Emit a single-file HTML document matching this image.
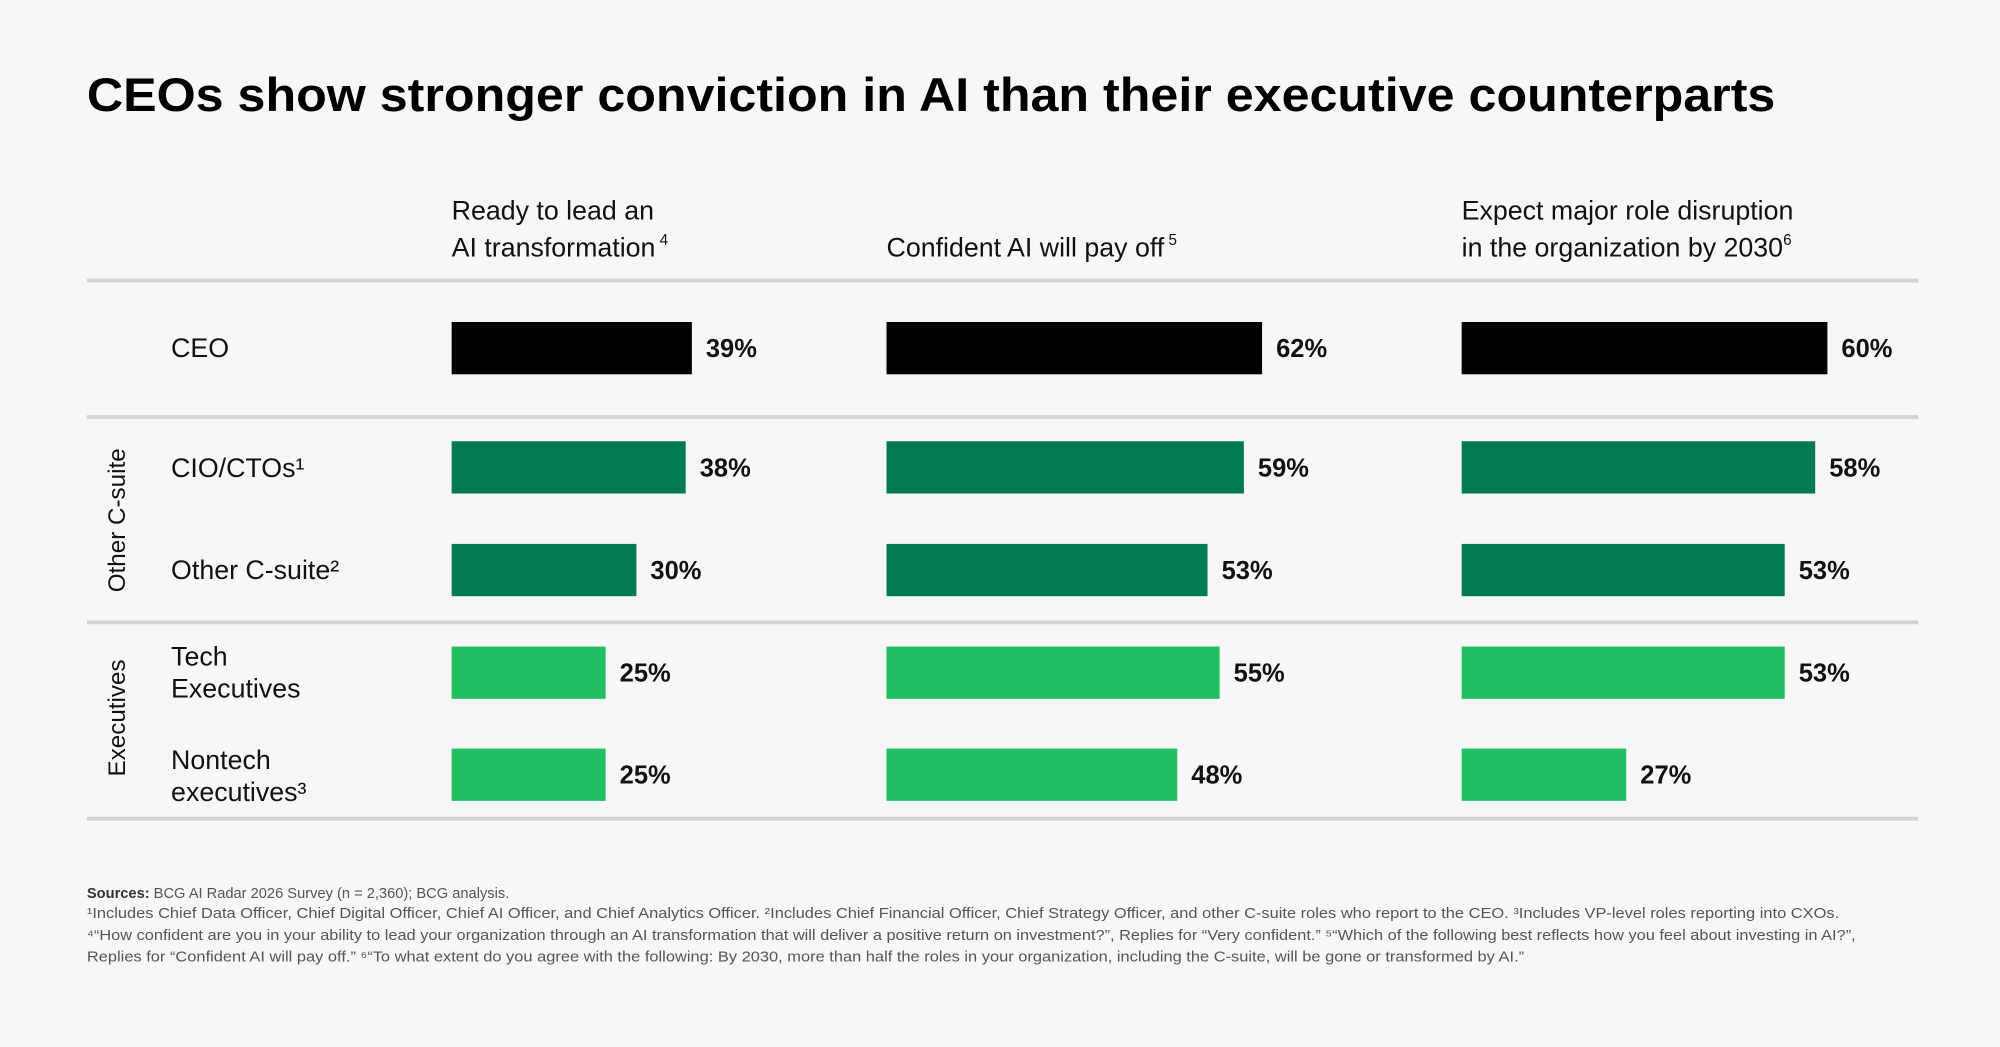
<!DOCTYPE html>
<html><head><meta charset="utf-8"><style>
html,body{margin:0;padding:0;background:#f7f7f7}
svg{display:block}
text{font-family:"Liberation Sans",sans-serif}
</style></head><body>
<svg id="chart" width="2000" height="1047" viewBox="0 0 1568 821" xmlns="http://www.w3.org/2000/svg">
<rect width="1568" height="821" fill="#f7f7f7"/>
<text x="68" y="87" font-size="37" font-weight="bold" fill="#000" textLength="1324" lengthAdjust="spacingAndGlyphs">CEOs show stronger conviction in AI than their executive counterparts</text>
<g font-size="21" fill="#111">
<text x="354" y="172">Ready to lead an</text>
<text x="354" y="201">AI transformation<tspan font-size="12" dy="-9"> 4</tspan></text>
<text x="695" y="201">Confident AI will pay off<tspan font-size="12" dy="-9"> 5</tspan></text>
<text x="1146" y="172">Expect major role disruption</text>
<text x="1146" y="201">in the organization by 2030<tspan font-size="12" dy="-9">6</tspan></text>
</g>
<g id="lines"></g>
<g font-size="21" fill="#111">
<text x="134" y="280">CEO</text>
<text x="134" y="374">CIO/CTOs¹</text>
<text x="134" y="454">Other C-suite²</text>
<text x="134" y="522">Tech</text>
<text x="134" y="547">Executives</text>
<text x="134" y="603">Nontech</text>
<text x="134" y="628">executives³</text>
<text transform="translate(98,408) rotate(-90)" text-anchor="middle" font-size="19">Other C-suite</text>
<text transform="translate(98,563) rotate(-90)" text-anchor="middle" font-size="19">Executives</text>
</g>
<g id="bars"></g>
<g font-size="11.5" fill="#555">
<text x="68" y="704"><tspan font-weight="bold" fill="#333">Sources:</tspan> BCG AI Radar 2026 Survey (n = 2,360); BCG analysis.</text>
<text x="68" y="720" textLength="1374" lengthAdjust="spacingAndGlyphs">¹Includes Chief Data Officer, Chief Digital Officer, Chief AI Officer, and Chief Analytics Officer. ²Includes Chief Financial Officer, Chief Strategy Officer, and other C-suite roles who report to the CEO. ³Includes VP-level roles reporting into CXOs.</text>
<text x="68" y="737" textLength="1387" lengthAdjust="spacingAndGlyphs">⁴“How confident are you in your ability to lead your organization through an AI transformation that will deliver a positive return on investment?”, Replies for “Very confident.” ⁵“Which of the following best reflects how you feel about investing in AI?”,</text>
<text x="68" y="754" textLength="1127" lengthAdjust="spacingAndGlyphs">Replies for “Confident AI will pay off.” ⁶“To what extent do you agree with the following: By 2030, more than half the roles in your organization, including the C-suite, will be gone or transformed by AI.”</text>
</g>
</svg>
<script>
const rowsNames = ["CEO", "CIO/CTOs", "Other C-suite", "Tech Executives", "Nontech executives"];
const readyValues = [39, 38, 30, 25, 25];
const payoffValues = [62, 59, 53, 55, 48];
const disruptionValues = [60, 58, 53, 53, 27];
const NS = "http://www.w3.org/2000/svg";
const rowCenters = [273, 366.5, 447, 527.5, 607.5];
const rowColors = ["#000000", "#027b55", "#027b55", "#21bf61", "#21bf61"];
const cols = [
  {x0: 354, k: 4.83, vals: readyValues, key: "ready"},
  {x0: 695, k: 4.75, vals: payoffValues, key: "payoff"},
  {x0: 1146, k: 4.78, vals: disruptionValues, key: "disruption"}
];
function xScale(col, v) { return col.k * v; }
const bars = document.getElementById("bars");
cols.forEach(col => {
  col.vals.forEach((v, i) => {
    const w = xScale(col, v);
    const r = document.createElementNS(NS, "rect");
    r.setAttribute("x", col.x0); r.setAttribute("y", rowCenters[i] - 20.5);
    r.setAttribute("width", w); r.setAttribute("height", 41);
    r.setAttribute("fill", rowColors[i]);
    
    
    bars.appendChild(r);
    const t = document.createElementNS(NS, "text");
    t.setAttribute("x", col.x0 + w + 11); t.setAttribute("y", rowCenters[i] + 7);
    t.setAttribute("font-size", "20"); t.setAttribute("font-weight", "bold"); t.setAttribute("fill", "#111");
    t.textContent = v + "%";
    
    
    bars.appendChild(t);
  });
});
const lines = document.getElementById("lines");
[220, 327, 488, 642].forEach(y => {
  const l = document.createElementNS(NS, "rect");
  l.setAttribute("x", 68); l.setAttribute("y", y - 1.5); l.setAttribute("width", 1436); l.setAttribute("height", 3);
  l.setAttribute("fill", "#d3d3d3");
  
  
  lines.appendChild(l);
});
</script>
</body></html>
